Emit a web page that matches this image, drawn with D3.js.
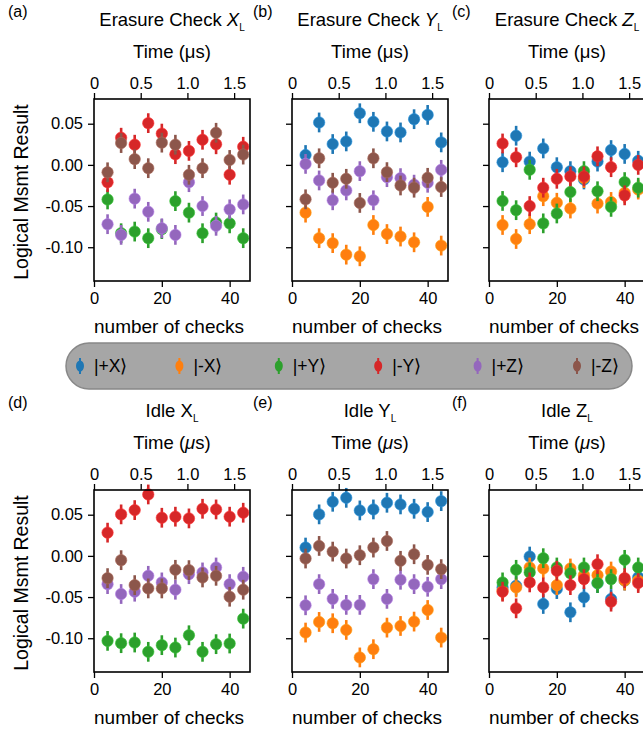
<!DOCTYPE html>
<html><head><meta charset="utf-8">
<script src="https://cdn.jsdelivr.net/npm/d3@7"></script>
<style>body{margin:0;background:#fff}svg{display:block}text{font-family:"Liberation Sans",Arial,sans-serif;fill:#000}</style>
</head><body>
<svg id="chart" width="643" height="734"></svg>
<script>
// ---------- data ----------
const checks = [4, 8, 12, 16, 20, 24, 28, 32, 36, 40, 44];
const checkTicks = [0, 20, 40];
const timeTicks = [0, 0.5, 1.0, 1.5];
const yTicks = [0.05, 0.00, -0.05, -0.10];
const stateNames = ["|+X\u27E9", "|-X\u27E9", "|+Y\u27E9", "|-Y\u27E9", "|+Z\u27E9", "|-Z\u27E9"];
const stateColors = ["#1f77b4", "#ff7f0e", "#2ca02c", "#d62728", "#9467bd", "#8c564b"];
const errHalf = 0.012;

// (a) Erasure Check X_L
const aPlusY  = [-0.042, -0.083, -0.081, -0.089, -0.078, -0.044, -0.058, -0.083, -0.070, -0.071, -0.089];
const aMinusY = [-0.021, 0.033, 0.0245, 0.0507, 0.038, 0.013, 0.017, 0.0305, 0.025, -0.012, 0.022];
const aPlusZ  = [-0.072, -0.085, -0.041, -0.057, -0.077, -0.085, -0.021, -0.050, -0.074, -0.054, -0.048];
const aMinusZ = [-0.009, 0.0265, 0.007, -0.004, 0.027, 0.0245, -0.012, -0.004, 0.039, 0.006, 0.0125];
// (b) Erasure Check Y_L
const bPlusX  = [0.012, 0.0515, 0.0253, 0.0285, 0.0627, 0.0523, 0.0406, 0.0394, 0.0555, 0.0607, 0.0273];
const bMinusX = [-0.058, -0.089, -0.095, -0.109, -0.111, -0.073, -0.084, -0.087, -0.094, -0.051, -0.098];
const bPlusZ  = [0.0012, -0.0189, -0.043, -0.031, -0.0076, -0.043, -0.0149, -0.0161, -0.024, -0.0217, -0.006];
const bMinusZ = [-0.0418, 0.008, -0.0217, -0.0169, -0.0462, 0.008, -0.0088, -0.025, -0.0277, -0.0157, -0.0269];
// (c) Erasure Check Z_L
const cPlusX  = [0.0032, 0.0354, 0.004, 0.020, -0.0028, -0.0076, -0.0177, 0.004, 0.018, 0.0133, 0.005];
const cMinusX = [-0.073, -0.090, -0.072, -0.038, -0.046, -0.053, -0.016, -0.047, -0.045, -0.034, -0.030];
const cPlusY  = [-0.0438, -0.055, -0.006, -0.071, -0.059, -0.033, -0.0076, -0.032, -0.051, -0.0209, -0.0277];
const cMinusY = [0.026, 0.0092, -0.050, -0.0277, -0.0169, -0.014, -0.014, 0.0104, -0.0028, -0.037, 0.000];
// (d) Idle X_L
const dPlusY  = [-0.1032, -0.106, -0.1052, -0.1165, -0.1084, -0.1113, -0.0964, -0.1165, -0.1072, -0.1064, -0.0762];
const dMinusY = [0.0282, 0.0504, 0.0556, 0.0746, 0.0463, 0.0476, 0.0455, 0.0572, 0.0564, 0.0476, 0.0524];
const dPlusZ  = [-0.0343, -0.0463, -0.0435, -0.0242, -0.0322, -0.0411, -0.0222, -0.0201, -0.0141, -0.0343, -0.0254];
const dMinusZ = [-0.027, -0.0052, -0.0355, -0.0395, -0.0395, -0.0169, -0.0173, -0.0262, -0.0242, -0.0496, -0.0411];
// (e) Idle Y_L
const ePlusX  = [0.0101, 0.0504, 0.0657, 0.0705, 0.0552, 0.0564, 0.0645, 0.0625, 0.0572, 0.0532, 0.0665];
const eMinusX = [-0.0931, -0.0802, -0.0818, -0.0899, -0.1233, -0.1133, -0.0871, -0.0851, -0.0798, -0.0657, -0.0992];
const ePlusZ  = [-0.0600, -0.0343, -0.0522, -0.0595, -0.0595, -0.0282, -0.0522, -0.029, -0.0343, -0.0375, -0.0282];
const eMinusZ = [-0.0032, 0.0121, 0.0052, -0.0032, 0.0008, 0.0101, 0.0181, -0.006, 0.002, -0.0109, -0.0161];
// (f) Idle Z_L
const fPlusX  = [-0.0383, -0.0363, -0.0008, -0.0584, -0.0403, -0.0685, -0.0504, -0.033, -0.0524, -0.030, -0.026];
const fMinusX = [-0.0423, -0.0383, -0.0141, -0.0153, -0.0355, -0.0153, -0.0234, -0.0234, -0.019, -0.030, -0.030];
const fPlusY  = [-0.0322, -0.0169, -0.0201, -0.0028, -0.0141, -0.021, -0.0141, -0.033, -0.0282, -0.0048, -0.0141];
const fMinusY = [-0.0435, -0.0637, -0.0322, -0.0383, -0.0181, -0.0355, -0.0282, -0.0101, -0.0556, -0.027, -0.033];

const panels = [
  {label:"(a)", title:"Erasure Check ", sym:"X", italic:true, row:0, col:0, series:[[2,aPlusY],[3,aMinusY],[4,aPlusZ],[5,aMinusZ]]},
  {label:"(b)", title:"Erasure Check ", sym:"Y", italic:true, row:0, col:1, series:[[0,bPlusX],[1,bMinusX],[4,bPlusZ],[5,bMinusZ]]},
  {label:"(c)", title:"Erasure Check ", sym:"Z", italic:true, row:0, col:2, series:[[0,cPlusX],[1,cMinusX],[2,cPlusY],[3,cMinusY]]},
  {label:"(d)", title:"Idle ", sym:"X", italic:false, row:1, col:0, series:[[2,dPlusY],[3,dMinusY],[4,dPlusZ],[5,dMinusZ]]},
  {label:"(e)", title:"Idle ", sym:"Y", italic:false, row:1, col:1, series:[[0,ePlusX],[1,eMinusX],[4,ePlusZ],[5,eMinusZ]]},
  {label:"(f)", title:"Idle ", sym:"Z", italic:false, row:1, col:2, series:[[0,fPlusX],[1,fMinusX],[2,fPlusY],[3,fMinusY]]}
];

// ---------- layout ----------
const svg = d3.select("#chart");
const colLeft = [94, 292, 489];
const labelLeft = [8, 253, 452];
const rowTop = [99, 490];
const pw = 156, ph = 182;

panels.forEach(p => {
  const x0 = colLeft[p.col], y0 = rowTop[p.row];
  const g = svg.append("g").attr("transform", `translate(${x0},${y0})`);
  const x = d3.scaleLinear().domain([0, 46]).range([0, pw]);
  const t = d3.scaleLinear().domain([0, 1.67]).range([0, pw]);
  const y = d3.scaleLinear().domain([-0.141, 0.080]).range([ph, 0]);

  // data
  p.series.forEach(([si, vals]) => {
    const sg = g.append("g");
    sg.selectAll("line").data(vals).join("line")
      .attr("x1", (d,i) => x(checks[i])).attr("x2", (d,i) => x(checks[i]))
      .attr("y1", d => y(d - errHalf)).attr("y2", d => y(d + errHalf))
      .attr("stroke", stateColors[si]).attr("stroke-width", 2.6);
    sg.selectAll("circle").data(vals).join("circle")
      .attr("cx", (d,i) => x(checks[i])).attr("cy", d => y(d))
      .attr("r", 5.7).attr("fill", stateColors[si])
      .attr("stroke", d3.color(stateColors[si]).brighter(0.6)).attr("stroke-width", 0.6);
  });

  // axes
  const fmtT = d => d === 0 ? "0" : d3.format(".1f")(d);
  const axT = g.append("g").call(d3.axisTop(t).tickValues(timeTicks).tickFormat(fmtT).tickSize(6).tickPadding(4));
  const axB = g.append("g").attr("transform", `translate(0,${ph})`).call(d3.axisBottom(x).tickValues(checkTicks).tickSize(6).tickPadding(5));
  const axL = g.append("g").call(d3.axisLeft(y).tickValues(yTicks).tickFormat(p.col === 0 ? d3.format(".2f") : () => "").tickSize(6).tickPadding(5));
  [axT, axB, axL].forEach(a => {
    a.select(".domain").remove();
    a.selectAll("line").attr("stroke-width", 1.3);
    a.selectAll("text").style("font-size", "16.5px").style("font-family", '"Liberation Sans",Arial,sans-serif');
  });
  axL.selectAll("text").text(d => p.col === 0 ? d3.format(".2f")(d).replace("\u2212", "-") : "");
  g.append("rect").attr("width", pw).attr("height", ph).attr("fill", "none").attr("stroke", "#000").attr("stroke-width", 1.6);

  // texts
  const cx = pw / 2;
  const title = g.append("text").attr("x", cx).attr("y", -73).attr("text-anchor", "middle").style("font-size", "18.5px");
  title.append("tspan").text(p.title);
  title.append("tspan").text(p.sym).style("font-style", p.italic ? "italic" : "normal");
  title.append("tspan").text("L").attr("dy", 5).style("font-size", "10px");
  svg.append("text").attr("x", labelLeft[p.col]).attr("y", y0 - 82).text(p.label).style("font-size", "16px");

  const tl = g.append("text").attr("x", cx).attr("y", -41).attr("text-anchor", "middle").style("font-size", "18.5px");
  tl.append("tspan").text("Time (");
  tl.append("tspan").text("\u03BC").style("font-style", p.row === 1 ? "italic" : "normal");
  tl.append("tspan").text("s)");

  g.append("text").attr("x", cx - 3).attr("y", ph + 52).attr("text-anchor", "middle").style("font-size", "19px").text("number of checks");
  if (p.col === 0) {
    g.append("text").attr("transform", `translate(-66,${ph/2 + 2}) rotate(-90)`).attr("text-anchor", "middle").style("font-size", "19.5px").text("Logical Msmt Result");
  }
});

// ---------- legend ----------
const lg = svg.append("g");
lg.append("rect").attr("x", 66).attr("y", 343).attr("width", 566).attr("height", 46).attr("rx", 23)
  .attr("fill", "#a6a6a6").attr("stroke", "#888").attr("stroke-width", 1.5);
stateNames.forEach((n, i) => {
  const mx = 80 + i * 99.4, my = 366;
  lg.append("line").attr("x1", mx).attr("x2", mx).attr("y1", my - 8).attr("y2", my + 8).attr("stroke", stateColors[i]).attr("stroke-width", 2);
  lg.append("ellipse").attr("cx", mx).attr("cy", my).attr("rx", 4).attr("ry", 5.5).attr("fill", stateColors[i]);
  lg.append("text").attr("x", mx + 14).attr("y", my + 6).style("font-size", "17.5px").text(n);
});
</script>
</body></html>
